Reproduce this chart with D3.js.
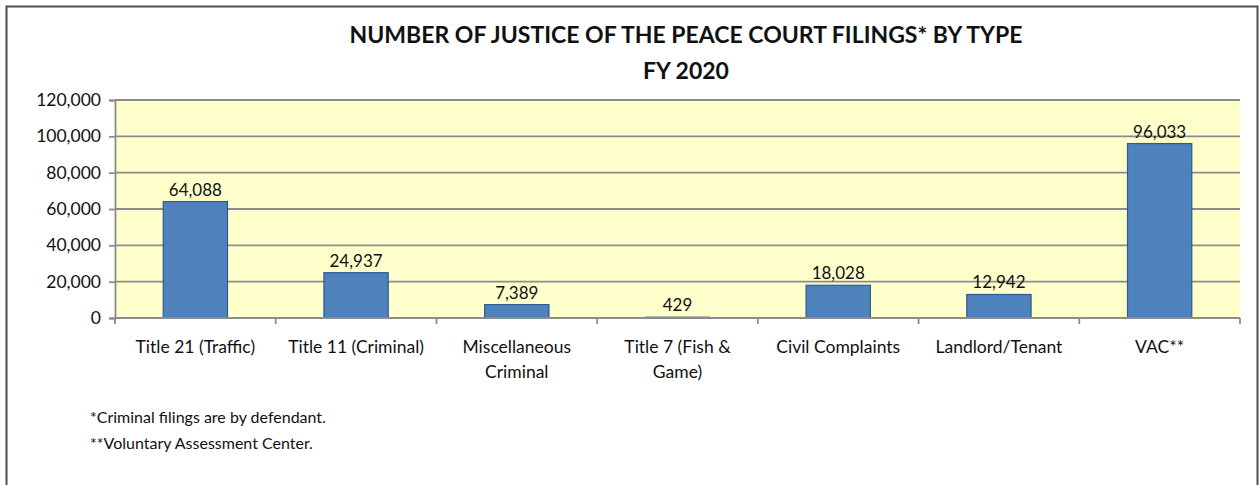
<!DOCTYPE html>
<html>
<head>
<meta charset="utf-8">
<script src="https://cdn.jsdelivr.net/npm/d3@7"></script>
<style>
  html, body { margin: 0; padding: 0; background: #fff; }
  svg { display: block; }
  text { font-family: Lato, "Open Sans", sans-serif; fill: #111; }
</style>
</head>
<body>
<svg id="chart" width="1259" height="485"></svg>
<script>
const categories = [
  ["Title 21 (Traffic)"],
  ["Title 11 (Criminal)"],
  ["Miscellaneous", "Criminal"],
  ["Title 7 (Fish &", "Game)"],
  ["Civil Complaints"],
  ["Landlord/Tenant"],
  ["VAC**"]
];
const values = [64088, 24937, 7389, 429, 18028, 12942, 96033];
const yTicks = [0, 20000, 40000, 60000, 80000, 100000, 120000];
const titleLines = ["NUMBER OF JUSTICE OF THE PEACE COURT FILINGS* BY TYPE", "FY 2020"];
const footnotes = ["*Criminal filings are by defendant.", "**Voluntary Assessment Center."];

const svg = d3.select("#chart");
const plot = { left: 115, right: 1240, top: 100, bottom: 318 };

// outer border
svg.append("rect")
  .attr("x", 6.5).attr("y", 6.5)
  .attr("width", 1251).attr("height", 500)
  .attr("fill", "#fff").attr("stroke", "#4d4d4d").attr("stroke-width", 2);

const x = d3.scaleBand()
  .domain(d3.range(categories.length))
  .range([plot.left, plot.right])
  .paddingInner(0.6).paddingOuter(0.3);

const xOuter = d3.scaleBand()
  .domain(d3.range(categories.length))
  .range([plot.left, plot.right]);

const y = d3.scaleLinear().domain([0, 120000]).range([plot.bottom, plot.top]);

// plot background
svg.append("rect")
  .attr("x", plot.left).attr("y", plot.top)
  .attr("width", plot.right - plot.left).attr("height", plot.bottom - plot.top)
  .attr("fill", "#ffffcc");

// gridlines
svg.append("g")
  .selectAll("line")
  .data(yTicks.filter(d => d > 0))
  .join("line")
  .attr("x1", plot.left).attr("x2", plot.right)
  .attr("y1", d => y(d)).attr("y2", d => y(d))
  .attr("stroke", "#8c8c8c").attr("stroke-width", 1.8);

// y axis
const yAxis = svg.append("g")
  .attr("transform", `translate(${plot.left},0)`)
  .call(d3.axisLeft(y).tickValues(yTicks).tickSize(6).tickPadding(8)
    .tickFormat(d3.format(",")));
yAxis.select(".domain").attr("stroke", "#8c8c8c").attr("stroke-width", 1.8);
yAxis.selectAll(".tick line").attr("stroke", "#8c8c8c").attr("stroke-width", 1.8);
yAxis.selectAll(".tick text").attr("font-size", 17.5).attr("font-family", "Lato, sans-serif").attr("fill", "#111");

// bars
svg.append("g")
  .selectAll("rect")
  .data(values)
  .join("rect")
  .attr("x", (d, i) => x(i))
  .attr("y", d => y(d))
  .attr("width", x.bandwidth())
  .attr("height", d => y(0) - y(d))
  .attr("fill", "#4f81bd")
  .attr("stroke", "#2f5a8c").attr("stroke-width", 1.2);

// value labels
svg.append("g")
  .selectAll("text")
  .data(values)
  .join("text")
  .attr("x", (d, i) => x(i) + x.bandwidth() / 2)
  .attr("y", d => y(d) - 6)
  .attr("text-anchor", "middle")
  .attr("font-size", 17)
  .text(d => d3.format(",")(d));

// x axis
const xAxis = svg.append("g")
  .attr("transform", `translate(0,${plot.bottom})`);
xAxis.append("line")
  .attr("x1", plot.left).attr("x2", plot.right)
  .attr("y1", 0).attr("y2", 0)
  .attr("stroke", "#8c8c8c").attr("stroke-width", 1.8);
xAxis.selectAll("line.tk")
  .data(d3.range(categories.length + 1))
  .join("line").attr("class", "tk")
  .attr("x1", i => i < categories.length ? xOuter(i) : plot.right)
  .attr("x2", i => i < categories.length ? xOuter(i) : plot.right)
  .attr("y1", 0).attr("y2", 6)
  .attr("stroke", "#8c8c8c").attr("stroke-width", 1.8);

svg.append("g")
  .selectAll("text")
  .data(categories)
  .join("text")
  .attr("x", (d, i) => xOuter(i) + xOuter.bandwidth() / 2)
  .attr("y", 353)
  .attr("text-anchor", "middle")
  .attr("font-size", 17.5)
  .selectAll("tspan")
  .data(d => d)
  .join("tspan")
  .attr("x", function() { return d3.select(this.parentNode).attr("x"); })
  .attr("dy", (d, j) => j === 0 ? 0 : 25)
  .text(d => d);

// title
svg.append("g")
  .selectAll("text")
  .data(titleLines)
  .join("text")
  .attr("x", 686)
  .attr("y", (d, i) => 43 + i * 36)
  .attr("text-anchor", "middle")
  .attr("font-size", 23)
  .attr("font-weight", "bold")
  .attr("fill", "#000")
  .text(d => d);

// footnotes
svg.append("g")
  .selectAll("text")
  .data(footnotes)
  .join("text")
  .attr("x", 90)
  .attr("y", (d, i) => 423 + i * 26)
  .attr("font-size", 16)
  .text(d => d);
</script>
</body>
</html>
